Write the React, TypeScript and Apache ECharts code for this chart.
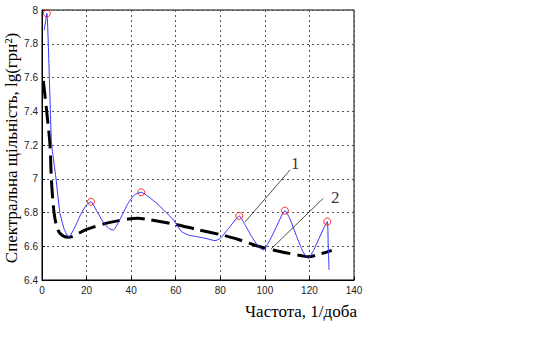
import React, { useEffect, useRef } from "react";
import * as echarts from "echarts";

// Spectral density (blue curve), [frequency, lg value]
const spectrumData: number[][] = [
  [1, 7.88], [2.2, 7.98], [3.3, 7.6], [4.2, 7.22], [5, 7.13], [6.3, 7.0], [8, 6.8], [10, 6.7], [12, 6.652],
  [15, 6.72], [17.6, 6.795], [20, 6.845], [22, 6.864], [24.5, 6.81], [27.4, 6.745], [30, 6.705], [32, 6.696],
  [35, 6.76], [38.6, 6.854], [41.5, 6.905], [44.5, 6.92], [51.5, 6.854], [55, 6.81], [59, 6.755], [62.7, 6.686],
  [66, 6.665], [69.4, 6.657], [74, 6.645], [77.6, 6.633], [80, 6.647], [84, 6.71], [88.5, 6.78], [91, 6.73],
  [94.1, 6.657], [97, 6.6], [99.3, 6.578], [102, 6.63], [104.5, 6.696], [109, 6.811], [111, 6.77], [114.3, 6.657],
  [117, 6.57], [119.5, 6.528], [122, 6.58], [124, 6.637], [128, 6.746], [128.4, 6.62], [128.8, 6.46],
];

// Trend (black dashed curve)
const trendData: number[][] = [
  [0.6, 7.58], [2.1, 7.4], [3.6, 7.2], [4.2, 7.0], [5.4, 6.8], [7, 6.7], [9, 6.665], [11.7, 6.653],
  [20, 6.7], [30, 6.74], [43, 6.766], [47, 6.76], [59, 6.732], [69.4, 6.7], [82, 6.663], [88.8, 6.637],
  [93.3, 6.617], [97.8, 6.597], [103.8, 6.578], [110, 6.56], [117.2, 6.542], [119.5, 6.538], [125, 6.555], [130, 6.576],
];

// Peaks marked with red circles
const peakData: number[][] = [
  [2.2, 7.98], [22, 6.864], [44.5, 6.92], [88.5, 6.78], [109, 6.811], [128, 6.746],
];

// Leader lines for the annotations
const leader1: number[][] = [[111.3, 7.052], [91.1, 6.744]];
const leader2: number[][] = [[126.2, 6.884], [102.8, 6.584]];
const annotationLabels: (number | string)[][] = [[113.6, 7.09, "1"], [131.6, 6.89, "2"]];

const xTitle = "Частота, 1/доба";
const yTitle = "Спектральна щільність, lg(грн²)";

const serif = "Liberation Serif";

export default function App() {
  const ref = useRef<HTMLDivElement>(null);
  useEffect(() => {
    const chart = echarts.init(ref.current!, null, { renderer: "svg" });
    chart.setOption({
      animation: false,
      backgroundColor: "#fff",
      grid: { left: 42, right: 196, top: 10, bottom: 61, show: true, borderColor: "#000", borderWidth: 1 },
      xAxis: {
        type: "value",
        min: 0,
        max: 140,
        interval: 20,
        axisLine: { show: true, lineStyle: { color: "#000" } },
        axisTick: { show: true, inside: true, length: 3, lineStyle: { color: "#000" } },
        axisLabel: { color: "#222", fontFamily: "Liberation Sans", fontSize: 10, margin: 5 },
        splitLine: { show: true, lineStyle: { color: "#555", type: [2, 3], width: 1 } },
      },
      yAxis: {
        type: "value",
        min: 6.4,
        max: 8,
        interval: 0.2,
        axisLine: { show: true, lineStyle: { color: "#000" } },
        axisTick: { show: true, inside: true, length: 3, lineStyle: { color: "#000" } },
        axisLabel: {
          color: "#222",
          fontFamily: "Liberation Sans",
          fontSize: 10,
          margin: 4,
          formatter: (v: number) => String(+v.toFixed(1)),
        },
        splitLine: { show: true, lineStyle: { color: "#555", type: [2, 3], width: 1 } },
      },
      graphic: [
        {
          type: "text",
          x: 301,
          y: 311,
          style: {
            text: xTitle,
            fontFamily: serif,
            fontSize: 17,
            fill: "#000",
            textAlign: "center",
            textVerticalAlign: "middle",
          },
        },
        {
          type: "text",
          x: 11,
          y: 148,
          rotation: Math.PI / 2,
          style: {
            text: yTitle,
            fontFamily: serif,
            fontSize: 17,
            fill: "#000",
            textAlign: "center",
            textVerticalAlign: "middle",
          },
        },
      ],
      series: [
        {
          type: "line",
          data: trendData,
          smooth: 0.3,
          showSymbol: false,
          lineStyle: { color: "#000", width: 3, type: [18, 7] },
          z: 2,
        },
        {
          type: "line",
          data: spectrumData,
          smooth: 0.15,
          showSymbol: false,
          lineStyle: { color: "#3333ff", width: 1 },
          z: 3,
        },
        {
          type: "scatter",
          data: peakData,
          symbol: "circle",
          symbolSize: 7,
          itemStyle: { color: "rgba(255,255,255,0)", borderColor: "#ff0000", borderWidth: 1 },
          z: 4,
        },
        {
          type: "line",
          data: leader1,
          showSymbol: false,
          lineStyle: { color: "#000", width: 0.7 },
          z: 5,
        },
        {
          type: "line",
          data: leader2,
          showSymbol: false,
          lineStyle: { color: "#000", width: 0.7 },
          z: 5,
        },
        {
          type: "scatter",
          data: annotationLabels,
          symbolSize: 0,
          label: {
            show: true,
            position: "inside",
            formatter: (p: any) => p.value[2],
            fontFamily: serif,
            fontSize: 17,
            color: "#000",
          },
          z: 6,
        },
      ],
    });
    return () => chart.dispose();
  }, []);
  return <div ref={ref} style={{ width: 550, height: 341, position: "absolute", left: 0, top: 0 }} />;
}
